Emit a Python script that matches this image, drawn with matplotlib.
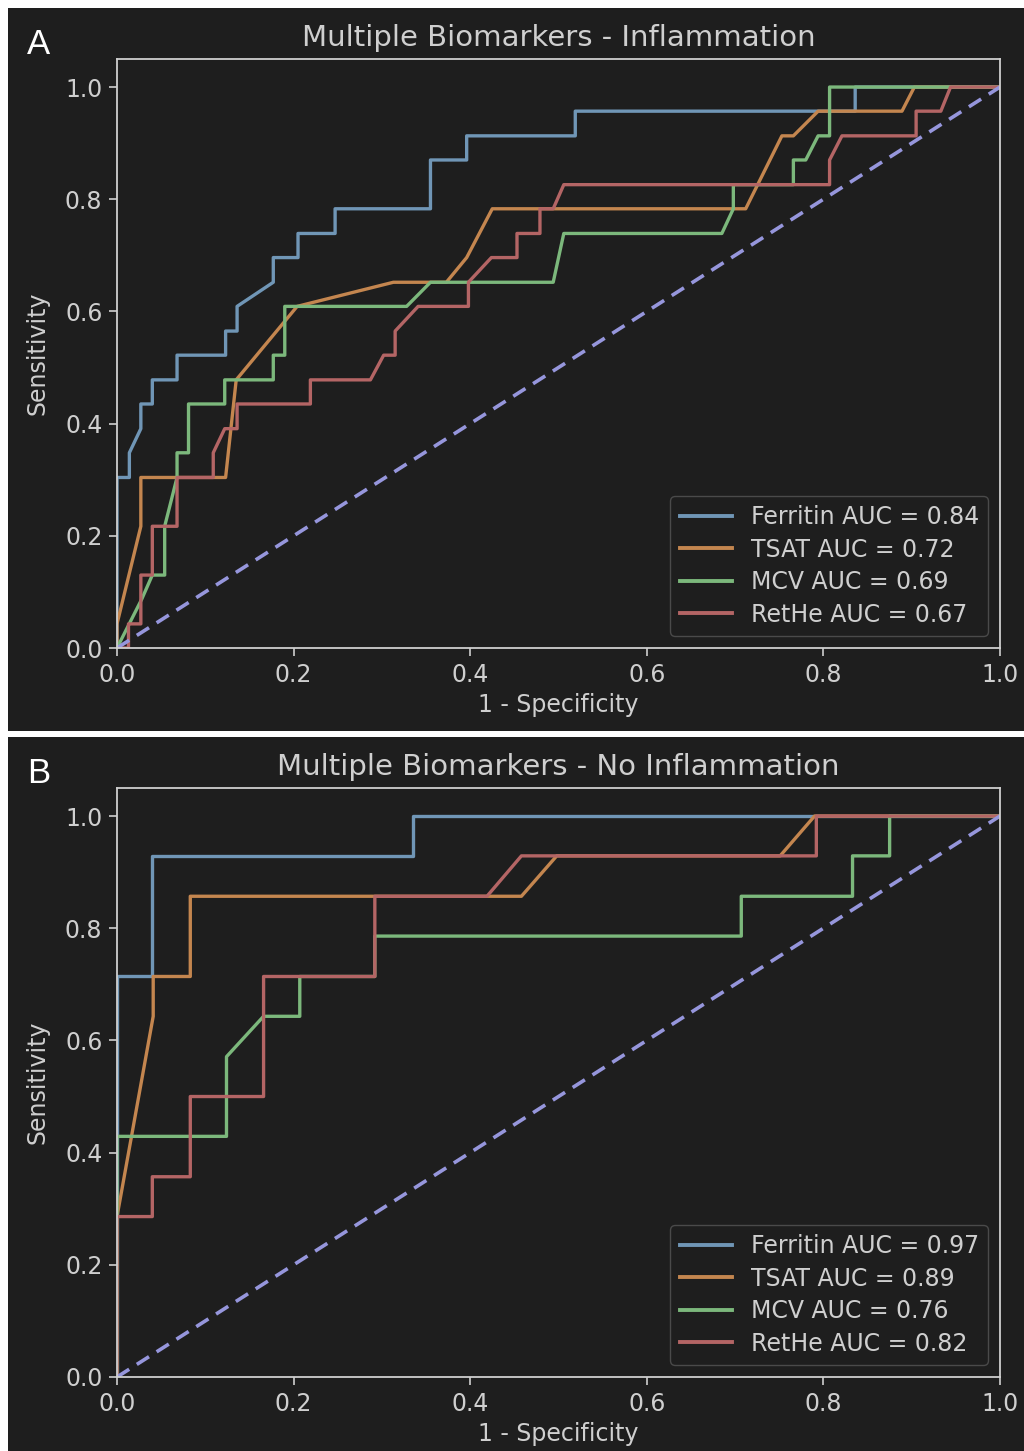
import matplotlib
matplotlib.use("Agg")
import matplotlib.pyplot as plt
import matplotlib.patches as patches

# ---- panel A: inflammation (ROC points, 1 - specificity / sensitivity) ----
ferritin_a_fpr = [0, 0, 0.014, 0.014, 0.027, 0.027, 0.040, 0.040, 0.068, 0.068, 0.123, 0.123,
                  0.136, 0.136, 0.177, 0.177, 0.205, 0.205, 0.247, 0.247, 0.355, 0.355, 0.396,
                  0.396, 0.519, 0.519, 0.836, 0.836, 1.0]
ferritin_a_tpr = [0, 0.304, 0.304, 0.348, 0.391, 0.435, 0.435, 0.478, 0.478, 0.522, 0.522, 0.565,
                  0.565, 0.609, 0.652, 0.696, 0.696, 0.739, 0.739, 0.783, 0.783, 0.870, 0.870,
                  0.913, 0.913, 0.957, 0.957, 1.0, 1.0]

tsat_a_fpr = [0, 0, 0.027, 0.027, 0.123, 0.135, 0.204, 0.313, 0.373, 0.396, 0.425, 0.712,
              0.753, 0.766, 0.794, 0.889, 0.903, 1.0]
tsat_a_tpr = [0, 0.043, 0.217, 0.304, 0.304, 0.478, 0.609, 0.652, 0.652, 0.696, 0.783, 0.783,
              0.913, 0.913, 0.957, 0.957, 1.0, 1.0]

mcv_a_fpr = [0, 0.028, 0.040, 0.054, 0.054, 0.068, 0.068, 0.081, 0.081, 0.122, 0.122, 0.177,
             0.177, 0.190, 0.190, 0.328, 0.355, 0.494, 0.506, 0.685, 0.698, 0.698, 0.766,
             0.766, 0.780, 0.794, 0.807, 0.807, 1.0]
mcv_a_tpr = [0, 0.087, 0.130, 0.130, 0.217, 0.304, 0.348, 0.348, 0.435, 0.435, 0.478, 0.478,
             0.522, 0.522, 0.609, 0.609, 0.652, 0.652, 0.739, 0.739, 0.783, 0.826, 0.826,
             0.870, 0.870, 0.913, 0.913, 1.0, 1.0]

rethe_a_fpr = [0, 0.013, 0.013, 0.027, 0.027, 0.040, 0.040, 0.068, 0.068, 0.109, 0.109, 0.122,
               0.136, 0.136, 0.219, 0.219, 0.287, 0.302, 0.315, 0.315, 0.341, 0.398, 0.398,
               0.424, 0.453, 0.453, 0.479, 0.479, 0.494, 0.506, 0.807, 0.807, 0.821, 0.905,
               0.905, 0.933, 0.944, 1.0]
rethe_a_tpr = [0, 0, 0.043, 0.043, 0.130, 0.130, 0.217, 0.217, 0.304, 0.304, 0.348, 0.391,
               0.391, 0.435, 0.435, 0.478, 0.478, 0.522, 0.522, 0.565, 0.609, 0.609, 0.652,
               0.696, 0.696, 0.739, 0.739, 0.783, 0.783, 0.826, 0.826, 0.870, 0.913, 0.913,
               0.957, 0.957, 1.0, 1.0]

auc_a = [0.84, 0.72, 0.69, 0.67]

# ---- panel B: no inflammation ----
ferritin_b_fpr = [0, 0, 0.040, 0.040, 0.335, 0.335, 1.0]
ferritin_b_tpr = [0, 0.714, 0.714, 0.929, 0.929, 1.0, 1.0]

tsat_b_fpr = [0, 0, 0.041, 0.041, 0.083, 0.083, 0.458, 0.498, 0.751, 0.790, 1.0]
tsat_b_tpr = [0, 0.286, 0.643, 0.714, 0.714, 0.857, 0.857, 0.929, 0.929, 1.0, 1.0]

mcv_b_fpr = [0, 0, 0.124, 0.124, 0.166, 0.207, 0.207, 0.292, 0.292, 0.707, 0.707, 0.833,
             0.833, 0.875, 0.875, 1.0]
mcv_b_tpr = [0, 0.429, 0.429, 0.571, 0.643, 0.643, 0.714, 0.714, 0.786, 0.786, 0.857, 0.857,
             0.929, 0.929, 1.0, 1.0]

rethe_b_fpr = [0, 0, 0.040, 0.040, 0.083, 0.083, 0.166, 0.166, 0.292, 0.292, 0.419, 0.458,
               0.792, 0.792, 1.0]
rethe_b_tpr = [0, 0.286, 0.286, 0.357, 0.357, 0.5, 0.5, 0.714, 0.714, 0.857, 0.857, 0.929,
               0.929, 1.0, 1.0]

auc_b = [0.97, 0.89, 0.76, 0.82]

markers = ["Ferritin", "TSAT", "MCV", "RetHe"]
colors = ["#7096b6", "#c4864f", "#7cb87c", "#b46565"]
diag_color = "#9696dc"
bg = "#1e1e1e"
fg = "#cfcfcf"

panels = [
    ("A", "Multiple Biomarkers - Inflammation",
     [(ferritin_a_fpr, ferritin_a_tpr), (tsat_a_fpr, tsat_a_tpr),
      (mcv_a_fpr, mcv_a_tpr), (rethe_a_fpr, rethe_a_tpr)], auc_a),
    ("B", "Multiple Biomarkers - No Inflammation",
     [(ferritin_b_fpr, ferritin_b_tpr), (tsat_b_fpr, tsat_b_tpr),
      (mcv_b_fpr, mcv_b_tpr), (rethe_b_fpr, rethe_b_tpr)], auc_b),
]

W, H = 1024, 1451
fig = plt.figure(figsize=(W / 100, H / 100), dpi=100, facecolor="white")

# dark panel backgrounds (pixel boxes: left, top, right, bottom)
panel_boxes = [(8, 8, 1024, 731), (8, 737, 1024, 1451)]
axes_boxes = [(117, 59, 1000, 648), (117, 788, 1000, 1377)]

for (label, title, curves, aucs), pbox, abox in zip(panels, panel_boxes, axes_boxes):
    l, t, r, b = pbox
    fig.patches.append(patches.Rectangle((l / W, 1 - b / H), (r - l) / W, (b - t) / H,
                                         transform=fig.transFigure, facecolor=bg,
                                         edgecolor="none", zorder=-5))
    fig.text((l + 19) / W, 1 - (t + 46) / H, label, color="white", fontsize=25,
             family="Liberation Sans", va="baseline")

    l, t, r, b = abox
    ax = fig.add_axes([l / W, 1 - b / H, (r - l) / W, (b - t) / H])
    ax.set_facecolor(bg)
    for (fpr, tpr), name, auc, c in zip(curves, markers, aucs, colors):
        ax.plot(fpr, tpr, color=c, lw=2.4, label=f"{name} AUC = {auc:.2f}")
    ax.plot([0, 1], [0, 1], color=diag_color, lw=2.6, linestyle=(0, (4, 2.5)))

    ax.set_xlim(0, 1)
    ax.set_ylim(0, 1.05)
    ax.set_xticks([0, 0.2, 0.4, 0.6, 0.8, 1.0])
    ax.set_yticks([0, 0.2, 0.4, 0.6, 0.8, 1.0])
    ax.tick_params(colors=fg, labelsize=17, length=5.5, width=1.2, pad=5, labelcolor=fg)
    for s in ax.spines.values():
        s.set_color(fg)
        s.set_linewidth(1.3)
    ax.set_xlabel("1 - Specificity", color=fg, fontsize=17, labelpad=4.5)
    ax.set_ylabel("Sensitivity", color=fg, fontsize=17, labelpad=11)
    ax.set_title(title, color=fg, fontsize=21, pad=9)

    leg = ax.legend(loc="lower right", fontsize=17, handlelength=2.2, labelspacing=0.36,
                    facecolor=bg, edgecolor="#4a4a4a", framealpha=1, labelcolor=fg)
    for line in leg.get_lines():
        line.set_linewidth(2.8)

fig.savefig("out.png", dpi=100, facecolor="white")
